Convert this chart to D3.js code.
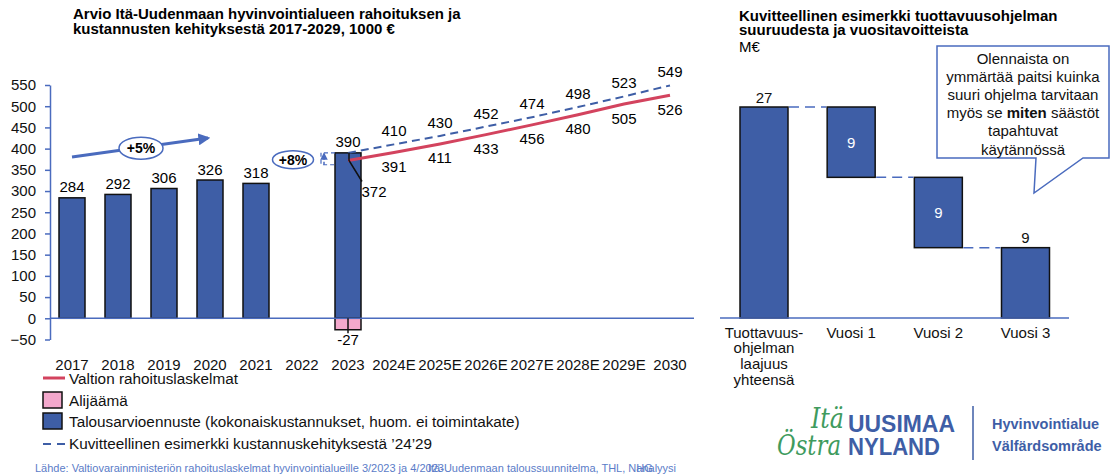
<!DOCTYPE html>
<html><head><meta charset="utf-8">
<script src="https://cdn.jsdelivr.net/npm/d3@7/dist/d3.min.js"></script>
<style>
html,body{margin:0;padding:0;background:#fff;}
svg{display:block;font-family:"Liberation Sans",Arial,sans-serif;}
</style></head>
<body>
<svg id="c" width="1110" height="476"></svg>
<script>
// ---------- data ----------
const years = ["2017","2018","2019","2020","2021","2022","2023","2024","2025","2026","2027","2028","2029","2030"];
const xTickLabels = ["2017","2018","2019","2020","2021","2022","2023","2024E","2025E","2026E","2027E","2028E","2029E","2030"];
const yTicks = [-50,0,50,100,150,200,250,300,350,400,450,500,550];
const budgetYears = ["2017","2018","2019","2020","2021","2023"];
const budgetValues = [284,292,306,326,318,390];
const deficitYears = ["2023"];
const deficitValues = [-27];
const lineYears = ["2023","2024","2025","2026","2027","2028","2029","2030"];
const fundingValues = [372,391,411,433,456,480,505,526];
const exampleValues = [390,410,430,452,474,498,523,549];
const legendLabels = ["Valtion rahoituslaskelmat","Alijäämä","Talousarvioennuste (kokonaiskustannukset, huom. ei toimintakate)","Kuvitteellinen esimerkki kustannuskehityksestä ’24’29"];

const wfCategories = ["total","v1","v2","v3"];
const wfCategoryLabels = [["Tuottavuus-","ohjelman","laajuus","yhteensä"],["Vuosi 1"],["Vuosi 2"],["Vuosi 3"]];
const wfValues = [27,9,9,9];
const calloutLines = [["Olennaista on"],["ymmärtää paitsi kuinka"],["suuri ohjelma tarvitaan"],["myös se ","miten"," säästöt"],["tapahtuvat"],["käytännössä"]];

// ---------- styles ----------
const BLUE = "#3E5EA6", PINK = "#F3A8CC", RED = "#D3435E", AXIS = "#4A6BBE", GREEN = "#3F9B5E", SRC = "#5B7CC8";

const svg = d3.select("#c");
const defs = svg.append("defs");
defs.append("marker").attr("id","arr").attr("viewBox","0 0 10 10").attr("refX",8).attr("refY",5)
  .attr("markerWidth",4).attr("markerHeight",4).attr("orient","auto")
  .append("path").attr("d","M0,0L10,5L0,10Z").attr("fill",AXIS);
defs.append("marker").attr("id","arr2").attr("viewBox","0 0 10 10").attr("refX",8).attr("refY",5)
  .attr("markerWidth",5).attr("markerHeight",5).attr("orient","auto")
  .append("path").attr("d","M0,0L10,5L0,10Z").attr("fill",AXIS);

// ---------- left chart ----------
const xL = d3.scalePoint().domain(years).range([72,670]);
const yL = d3.scaleLinear().domain([-50,550]).range([339.5,85]);
const barW = 26;

svg.append("text").attr("x",73).attr("y",19).attr("font-size",15).attr("font-weight","bold").text("Arvio Itä-Uudenmaan hyvinvointialueen rahoituksen ja");
svg.append("text").attr("x",73).attr("y",33.5).attr("font-size",15).attr("font-weight","bold").text("kustannusten kehityksestä 2017-2029, 1000 €");

const yAxis = svg.append("g").attr("transform","translate(50,0)")
  .call(d3.axisLeft(yL).tickValues(yTicks).tickSize(5).tickSizeOuter(0).tickPadding(9));
yAxis.select(".domain").attr("stroke",AXIS).attr("stroke-width",1.5);
yAxis.selectAll(".tick line").attr("stroke",AXIS).attr("stroke-width",1.5);
yAxis.selectAll(".tick text").attr("font-size",15).attr("fill","#111").attr("font-family","Liberation Sans, Arial, sans-serif");

// bars
const budget = budgetYears.map((d,i)=>({year:d,value:budgetValues[i]}));
svg.append("g").selectAll("rect").data(budget).join("rect")
  .attr("x",d=>xL(d.year)-barW/2).attr("y",d=>yL(d.value)).attr("width",barW)
  .attr("height",d=>yL(0)-yL(d.value)).attr("fill",BLUE).attr("stroke","#111").attr("stroke-width",1.5);
const deficit = deficitYears.map((d,i)=>({year:d,value:deficitValues[i]}));
svg.append("g").selectAll("rect").data(deficit).join("rect")
  .attr("x",d=>xL(d.year)-barW/2).attr("y",yL(0)).attr("width",barW)
  .attr("height",d=>yL(d.value)-yL(0)).attr("fill",PINK).attr("stroke","#111").attr("stroke-width",1.5);

// zero line
svg.append("line").attr("x1",50).attr("x2",694).attr("y1",yL(0)).attr("y2",yL(0)).attr("stroke",AXIS).attr("stroke-width",1.5);

// deficit tick & label
svg.append("g").selectAll("line").data(deficit).join("line")
  .attr("x1",d=>xL(d.year)).attr("x2",d=>xL(d.year)).attr("y1",yL(0)).attr("y2",d=>yL(d.value)+3.5)
  .attr("stroke","#111").attr("stroke-width",1.5);
svg.append("g").selectAll("text").data(deficit).join("text")
  .attr("x",d=>xL(d.year)).attr("y",d=>yL(d.value)+15.5).attr("text-anchor","middle").attr("font-size",15).text(d=>d.value);

// bar labels
svg.append("g").selectAll("text").data(budget).join("text")
  .attr("x",d=>xL(d.year)).attr("y",d=>yL(d.value)-5.5).attr("text-anchor","middle").attr("font-size",15).text(d=>d.value);

// lines
const ex = lineYears.map((d,i)=>({year:d,value:exampleValues[i]}));
const fu = lineYears.map((d,i)=>({year:d,value:fundingValues[i]}));
const line = d3.line().x(d=>xL(d.year)).y(d=>yL(d.value));
svg.append("path").datum(ex).attr("d",line).attr("fill","none").attr("stroke",BLUE).attr("stroke-width",2).attr("stroke-dasharray","8,5");
svg.append("path").datum(fu).attr("d",line).attr("fill","none").attr("stroke",RED).attr("stroke-width",3);

// line labels
svg.append("g").selectAll("text").data(ex.slice(1)).join("text")
  .attr("x",d=>xL(d.year)).attr("y",d=>yL(d.value)-8).attr("text-anchor","middle").attr("font-size",15).text(d=>d.value);
svg.append("g").selectAll("text").data(fu.slice(1)).join("text")
  .attr("x",d=>xL(d.year)).attr("y",d=>yL(d.value)+19.5).attr("text-anchor","middle").attr("font-size",15).text(d=>d.value);

// 372 leader
const f0 = fu[0], e0 = ex[0];
svg.append("path").attr("d",`M${xL(f0.year)+1},${yL(e0.value)}V${yL(f0.value)}L${xL(f0.year)+14},${yL(f0.value)+21}`)
  .attr("fill","none").attr("stroke","#111").attr("stroke-width",1.5);
svg.append("text").attr("x",xL(f0.year)+26).attr("y",yL(f0.value)+36).attr("text-anchor","middle").attr("font-size",15).text(f0.value);

// x tick labels
svg.append("g").selectAll("text").data(years).join("text")
  .attr("x",d=>xL(d)).attr("y",369.5).attr("text-anchor","middle").attr("font-size",15).attr("fill","#111")
  .text((d,i)=>xTickLabels[i]);

// +5% annotation
svg.append("line").attr("x1",xL("2017")).attr("y1",yL(380)).attr("x2",xL("2020")-2).attr("y2",yL(425))
  .attr("stroke",AXIS).attr("stroke-width",3).attr("marker-end","url(#arr)");
const c5x = (xL("2018")+xL("2019"))/2;
svg.append("ellipse").attr("cx",c5x).attr("cy",yL(401)).attr("rx",22).attr("ry",11).attr("fill","#fff").attr("stroke",AXIS).attr("stroke-width",1.5);
svg.append("text").attr("x",c5x).attr("y",yL(401)+5).attr("text-anchor","middle").attr("font-size",14).attr("font-weight","bold").text("+5%");

// +8% annotation
const c8x = xL("2022")-9;
svg.append("ellipse").attr("cx",c8x).attr("cy",yL(374)).attr("rx",20.5).attr("ry",9).attr("fill","#fff").attr("stroke",AXIS).attr("stroke-width",1.5);
svg.append("text").attr("x",c8x).attr("y",yL(374)+5).attr("text-anchor","middle").attr("font-size",14).attr("font-weight","bold").text("+8%");
const bx0 = xL("2023")-27, bx1 = xL("2023")-13;
svg.append("path").attr("d",`M${bx1},${yL(390)}H${bx0}V${yL(362)}H${bx1}`).attr("fill","none").attr("stroke",AXIS).attr("stroke-width",1.2).attr("stroke-dasharray","4,3");
svg.append("line").attr("x1",bx0+3).attr("x2",bx0+3).attr("y1",yL(362)).attr("y2",yL(388))
  .attr("stroke",AXIS).attr("stroke-width",1.5).attr("stroke-dasharray","3,2").attr("marker-end","url(#arr2)");

// legend
const lg = svg.append("g");
lg.append("line").attr("x1",43).attr("x2",65).attr("y1",378).attr("y2",378).attr("stroke",RED).attr("stroke-width",3);
lg.append("rect").attr("x",43).attr("y",392).attr("width",19).attr("height",16).attr("fill",PINK).attr("stroke","#111").attr("stroke-width",1.5);
lg.append("rect").attr("x",43).attr("y",413).attr("width",19).attr("height",16).attr("fill",BLUE).attr("stroke","#111").attr("stroke-width",1.5);
lg.append("line").attr("x1",43).attr("x2",66).attr("y1",444).attr("y2",444).attr("stroke",BLUE).attr("stroke-width",2).attr("stroke-dasharray","8,6");
const lgY = [383.5,405.5,426.5,449];
lg.selectAll("text").data(legendLabels).join("text").attr("x",69).attr("y",(d,i)=>lgY[i]).attr("font-size",15.3).attr("fill","#111").text(d=>d);

// source (overlapping text boxes as in the original slide)
svg.append("text").attr("x",35).attr("y",471.5).attr("font-size",11).attr("fill",SRC)
  .text("Lähde: Valtiovarainministeriön rahoituslaskelmat hyvinvointialueille 3/2023 ja 4/2023");
const src2 = svg.append("text").attr("x",428).attr("y",471.5).attr("font-size",11).attr("fill",SRC)
  .text("Itä-Uudenmaan taloussuunnitelma, THL, NHG");
const nPos = src2.node().getSubStringLength(0, "Itä-Uudenmaan taloussuunnitelma, THL, N".length);
svg.append("text").attr("x",428+nPos).attr("y",471.5).attr("font-size",11).attr("fill",SRC).text("analyysi");

// ---------- right chart ----------
svg.append("text").attr("x",739).attr("y",20.5).attr("font-size",15).attr("font-weight","bold").text("Kuvitteellinen esimerkki tuottavuusohjelman");
svg.append("text").attr("x",739).attr("y",35).attr("font-size",15).attr("font-weight","bold").text("suuruudesta ja vuositavoitteista");
svg.append("text").attr("x",739).attr("y",51.5).attr("font-size",15).text("M€");

const xR = d3.scalePoint().domain(wfCategories).range([764,1025.5]);
const yR = d3.scaleLinear().domain([0,27]).range([318,107]);
const wbW = 48;
let run = 0;
const wf = wfCategories.map((c,i)=>{
  if(i===0){ run = wfValues[0]; return {cat:c,y0:0,y1:wfValues[0],v:wfValues[0],i}; }
  const top = run; run -= wfValues[i]; return {cat:c,y0:run,y1:top,v:wfValues[i],i};
});
svg.append("g").selectAll("rect").data(wf).join("rect")
  .attr("x",d=>xR(d.cat)-wbW/2).attr("y",d=>yR(d.y1)).attr("width",wbW).attr("height",d=>yR(d.y0)-yR(d.y1))
  .attr("fill",BLUE).attr("stroke","#111").attr("stroke-width",1.5);
// connectors
svg.append("g").selectAll("line").data(wf.slice(0,-1)).join("line")
  .attr("x1",d=>xR(d.cat)+wbW/2+1).attr("x2",(d,i)=>xR(wf[i+1].cat)-wbW/2-1)
  .attr("y1",(d,i)=>yR(wf[i+1].y1)).attr("y2",(d,i)=>yR(wf[i+1].y1))
  .attr("stroke",AXIS).attr("stroke-width",1.5).attr("stroke-dasharray","10,6");
// baseline
svg.append("line").attr("x1",720).attr("x2",1069).attr("y1",yR(0)).attr("y2",yR(0)).attr("stroke",AXIS).attr("stroke-width",1.5);
// labels
svg.append("g").selectAll("text").data(wf).join("text")
  .attr("x",d=>xR(d.cat))
  .attr("y",d=> (d.i===0||d.i===wf.length-1) ? yR(d.y1)-4.5 : (yR(d.y0)+yR(d.y1))/2+5.5)
  .attr("text-anchor","middle").attr("font-size",15)
  .attr("fill",d=>(d.i===0||d.i===wf.length-1)?"#111":"#fff").text(d=>d.v);
// category labels
wfCategories.forEach((c,i)=>{
  svg.append("text").attr("x",xR(c)).attr("y",337.5).attr("text-anchor","middle").attr("font-size",15).attr("fill","#111")
    .selectAll("tspan").data(wfCategoryLabels[i]).join("tspan").attr("x",xR(c)).attr("dy",(d,j)=>j===0?0:15.8).text(d=>d);
});

// callout
svg.append("path").attr("d","M937,46H1109V158H1083L1034,193L1036,158H937Z").attr("fill","#fff").attr("stroke",AXIS).attr("stroke-width",1.5);
const ct = svg.append("g");
calloutLines.forEach((ln,i)=>{
  const t = ct.append("text").attr("x",1023).attr("y",63.5+i*18.2).attr("text-anchor","middle").attr("font-size",15).attr("fill","#111");
  ln.forEach((s,j)=>{ t.append("tspan").attr("font-weight", (ln.length===3 && j===1)?"bold":null).text(s); });
});

// logo
svg.append("text").attr("x",811).attr("y",428).attr("font-size",27).attr("font-style","italic").attr("font-family","DejaVu Serif, serif").attr("fill",GREEN).attr("textLength",33).attr("lengthAdjust","spacingAndGlyphs").text("Itä");
svg.append("text").attr("x",777).attr("y",455).attr("font-size",27).attr("font-style","italic").attr("font-family","DejaVu Serif, serif").attr("fill",GREEN).attr("textLength",64).attr("lengthAdjust","spacingAndGlyphs").text("Östra");
svg.append("text").attr("x",848).attr("y",431.5).attr("font-size",24.5).attr("font-weight","bold").attr("fill",BLUE).attr("textLength",107).attr("lengthAdjust","spacingAndGlyphs").text("UUSIMAA");
svg.append("text").attr("x",848).attr("y",454.5).attr("font-size",24.5).attr("font-weight","bold").attr("fill",BLUE).attr("textLength",92).attr("lengthAdjust","spacingAndGlyphs").text("NYLAND");
svg.append("line").attr("x1",973).attr("x2",973).attr("y1",406).attr("y2",460).attr("stroke",BLUE).attr("stroke-width",1.5);
svg.append("text").attr("x",992).attr("y",428.5).attr("font-size",14.5).attr("font-weight","bold").attr("fill",BLUE).text("Hyvinvointialue");
svg.append("text").attr("x",992).attr("y",450.5).attr("font-size",14.5).attr("font-weight","bold").attr("fill",BLUE).text("Välfärdsområde");
</script>
</body></html>
